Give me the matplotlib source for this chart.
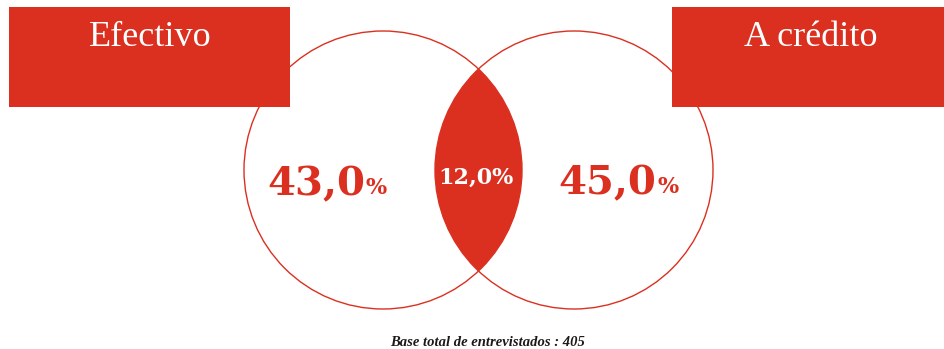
import matplotlib.pyplot as plt
from matplotlib.patches import Circle, Rectangle

# data
sets = ['Efectivo', 'A crédito']
only_left = 43.0
both = 12.0
only_right = 45.0
base_total = 405

red = '#DB3020'


def fmt(v):
    return f'{v:.1f}'.replace('.', ',')


fig = plt.figure(figsize=(9.44, 3.49), dpi=100)
ax = fig.add_axes([0, 0, 1, 1])
ax.set_xlim(0, 944)
ax.set_ylim(349, 0)
ax.set_aspect('equal')
ax.axis('off')

# circles
r = 139
cy = 170
c_left = Circle((383, cy), r, facecolor='none', edgecolor=red, lw=1.0, zorder=3)
c_right = Circle((574, cy), r, facecolor='none', edgecolor=red, lw=1.0, zorder=3)
ax.add_patch(c_left)
ax.add_patch(c_right)

# intersection filled: right circle clipped by left circle
clip = Circle((383, cy), r, transform=ax.transData)
lens = Circle((574, cy), r, facecolor=red, edgecolor='none', zorder=2)
ax.add_patch(lens)
lens.set_clip_path(clip)

# header boxes, on top of the circles
ax.add_patch(Rectangle((9, 7), 281, 100, facecolor=red, edgecolor='none', zorder=4))
ax.add_patch(Rectangle((672, 7), 272, 100, facecolor=red, edgecolor='none', zorder=4))
serif = ['Liberation Serif', 'DejaVu Serif']
ax.text(150, 37, sets[0], color='white', fontsize=26, family=serif,
        ha='center', va='center', zorder=5)
ax.text(811, 37, sets[1], color='white', fontsize=26, family=serif,
        ha='center', va='center', zorder=5)

# values
num = ['DejaVu Serif']
big = dict(color=red, fontsize=29, fontweight='bold', family=num, va='baseline', zorder=5)
pct = dict(color=red, fontsize=16, fontweight='bold', family=num, va='baseline', zorder=5)
ax.text(365, 195, fmt(only_left), ha='right', **big)
ax.text(366, 194, '%', ha='left', **pct)
ax.text(656, 194, fmt(only_right), ha='right', **big)
ax.text(657, 193, '%', ha='left', **pct)
ax.text(476, 184, fmt(both) + '%', color='white', fontsize=16, fontweight='bold',
        family=num, ha='center', va='baseline', zorder=5)

ax.text(488, 342, f'Base total de entrevistados : {base_total}', color='#1a1a1a',
        fontsize=10.5, fontweight='bold', style='italic', family=serif,
        ha='center', va='center')

fig.savefig('out.png', dpi=100, facecolor='white')
